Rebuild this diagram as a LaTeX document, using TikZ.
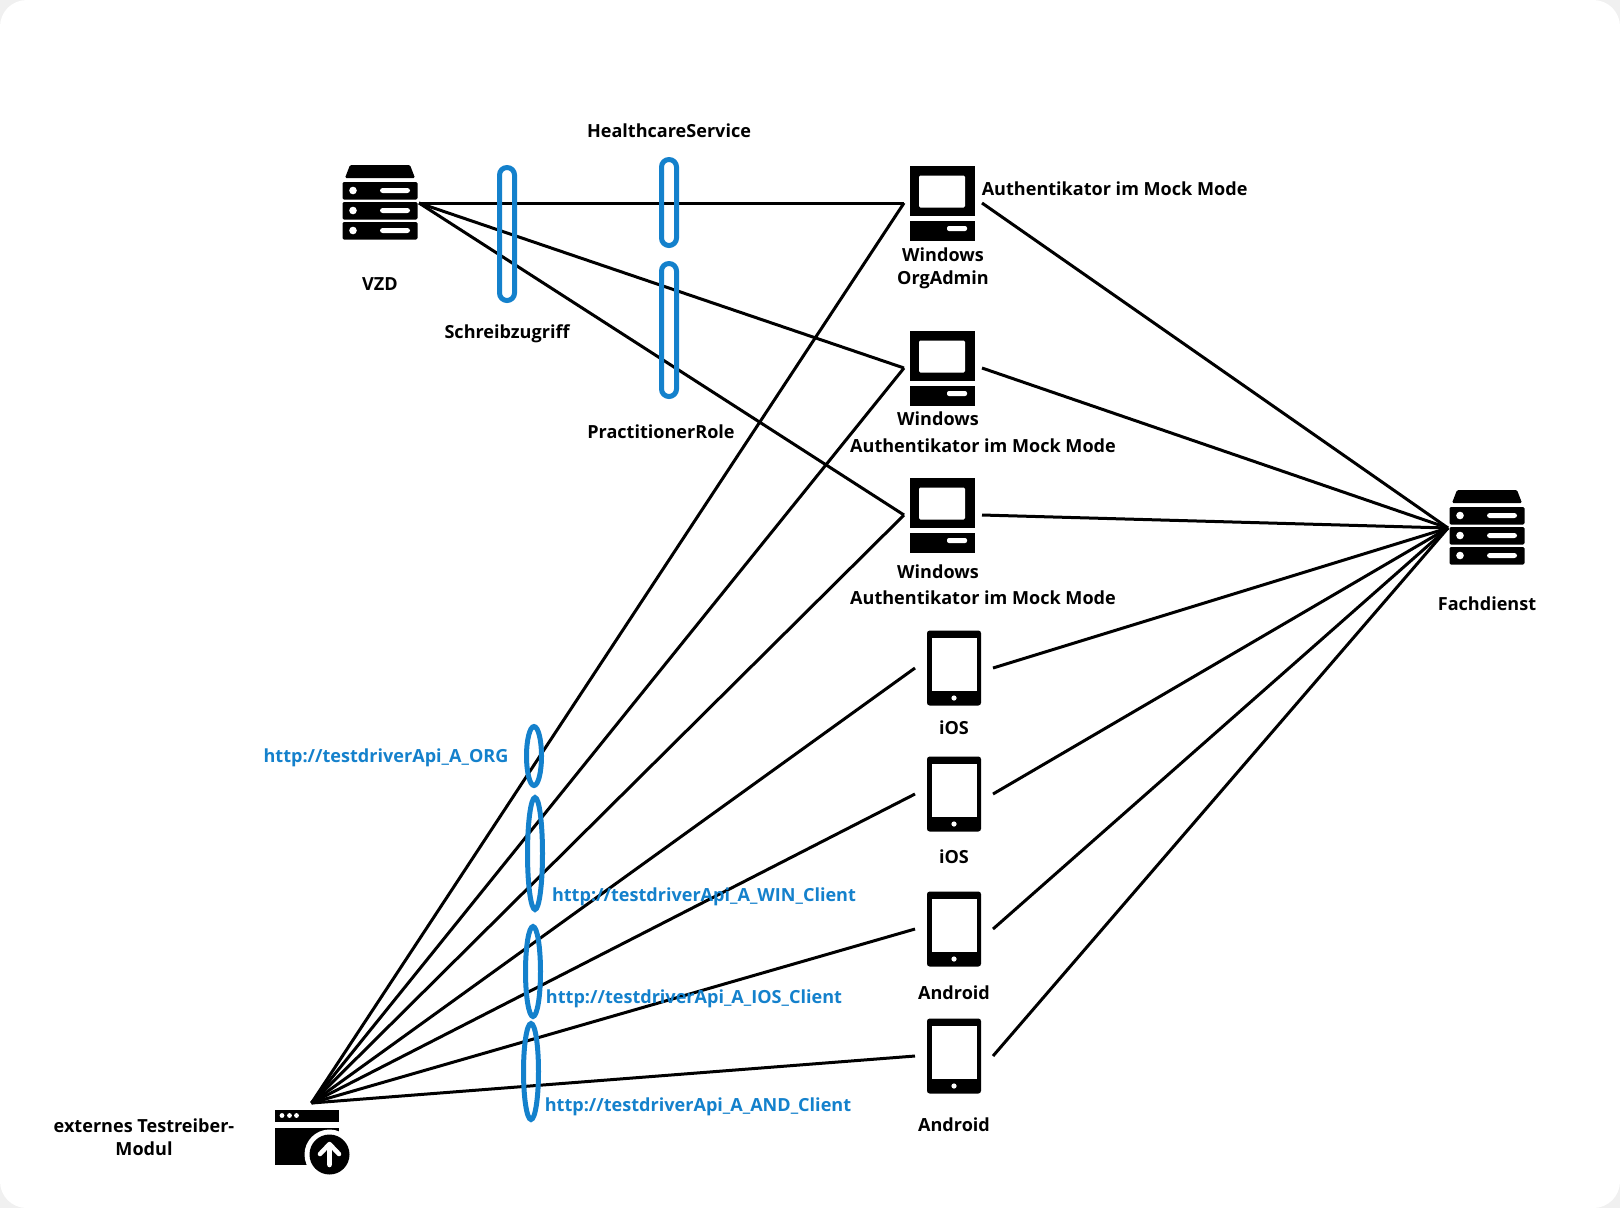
\documentclass[tikz,border=0pt]{standalone}
\usepackage{fontspec}
\setmainfont{Open Sans}
\usetikzlibrary{shapes.geometric}
\definecolor{linkblue}{HTML}{1481CC}
\definecolor{pagegrey}{HTML}{F0F0F0}
\tikzset{
  iconbox/.style={minimum size=58.5pt,inner sep=0pt,outer sep=0pt},
  conn/.style={line width=2.25pt},
  nametext/.style={font=\fontsize{13.55}{17}\selectfont\bfseries,inner sep=0pt,text height=13.5pt,text depth=3pt},
  linktext/.style={nametext,text=linkblue},
  pillring/.style={draw=linkblue,line width=3.75pt,rounded corners=5.6pt,minimum width=11.25pt,inner sep=0pt,outer sep=0pt},
  ovalring/.style={ellipse,draw=linkblue,line width=3.75pt,minimum width=11.25pt,inner sep=0pt,outer sep=0pt},
  servericon/.pic={
    \fill[rounded corners=1pt] (-35,-25) -- (-30,-38) -- (30,-38) -- (35,-25) -- cycle;
    \foreach \row in {-21,-1,19} {
      \fill[rounded corners=1pt] (-37.5,\row) rectangle (37.5,\row+17.5);
      \fill[white] (-27,\row+8.5) circle (3.8);
      \fill[white,rounded corners=2pt] (0,\row+6) rectangle (30,\row+11);
    }
  },
  desktopicon/.pic={
    \fill (-33.5,-37.5) rectangle (31.5,12.5);
    \fill[white,rounded corners=1pt] (-24,-27.5) rectangle (22,4.5);
    \fill (-33.5,17.5) rectangle (31.5,37.5);
    \fill[white,rounded corners=1.5pt] (4,23) rectangle (24,28);
  },
  tableticon/.pic={
    \fill[rounded corners=2pt] (-27,-37.5) rectangle (27,37.5);
    \fill[white] (-22.5,-30) rectangle (22.5,23);
    \fill[white] (0,30) circle (2.6);
  },
  uploadicon/.pic={
    \fill (-37,-32.5) rectangle (27.5,-20.5);
    \foreach \dotx in {-29.5,-22,-15} {
      \fill[white] (\dotx,-26.5) circle (2.4);
    }
    \fill (-37,-14.5) rectangle (27.5,22.5);
    \fill[white] (18,12.5) circle (25);
    \fill (18,12.5) circle (20);
    \draw[white,line width=3.4pt,line cap=round,line join=round] (8.5,12) -- (18,2) -- (27.5,12) (18,2) -- (18,23);
  }
}
\begin{document}
\begin{tikzpicture}[x=0.75pt,y=-0.75pt]
  \useasboundingbox (0,0) rectangle (1620,1208);
  \fill[pagegrey] (0,0) rectangle (1620,1208);
  \fill[white,rounded corners=20pt] (0,0) rectangle (1620,1208);

  \node (vzd) [iconbox] at (380,203) {};
  \node (winorg) [iconbox] at (943,203) {};
  \node (wina) [iconbox] at (943,368) {};
  \node (winb) [iconbox] at (943,515) {};
  \node (iosa) [iconbox] at (954,668) {};
  \node (iosb) [iconbox] at (954,794) {};
  \node (anda) [iconbox] at (954,929) {};
  \node (andb) [iconbox] at (954,1056) {};
  \node (fachdienst) [iconbox] at (1487,528) {};
  \node (testmodul) [iconbox] at (311.5,1142) {};

  \pic at (vzd) {servericon};
  \pic at (fachdienst) {servericon};
  \pic at (winorg) {desktopicon};
  \pic at (wina) {desktopicon};
  \pic at (winb) {desktopicon};
  \pic at (iosa) {tableticon};
  \pic at (iosb) {tableticon};
  \pic at (anda) {tableticon};
  \pic at (andb) {tableticon};
  \pic at (testmodul) {uploadicon};

  \path[conn] (vzd.east) edge (winorg.west)
              (vzd.east) edge (wina.west)
              (vzd.east) edge (winb.west)
              (testmodul.north) edge (winorg.west)
              (testmodul.north) edge (wina.west)
              (testmodul.north) edge (winb.west)
              (testmodul.north) edge (iosa.west)
              (testmodul.north) edge (iosb.west)
              (testmodul.north) edge (anda.west)
              (testmodul.north) edge (andb.west)
              (winorg.east) edge (fachdienst.west)
              (wina.east) edge (fachdienst.west)
              (winb.east) edge (fachdienst.west)
              (iosa.east) edge (fachdienst.west)
              (iosb.east) edge (fachdienst.west)
              (anda.east) edge (fachdienst.west)
              (andb.east) edge (fachdienst.west);

  \node (schreibring) [pillring,minimum height=99.75pt] at (507,234) {};
  \node (healthring) [pillring,minimum height=64.5pt] at (669,202.5) {};
  \node (practring) [pillring,minimum height=99.75pt] at (669,330) {};
  \node (orgring) [ovalring,minimum height=44.25pt] at (534,756) {};
  \node (winring) [ovalring,minimum height=84pt] at (535,853.5) {};
  \node (iosring) [ovalring,minimum height=67.5pt] at (533,971.5) {};
  \node (andring) [ovalring,minimum height=72pt] at (531,1071.5) {};

  \node (vzdlabel) [nametext] at (380,283) {VZD};
  \node (schreiblabel) [nametext] at (507,331.5) {Schreibzugriff};
  \node (healthlabel) [nametext] at (669,130) {HealthcareService};
  \node (practlabel) [nametext] at (661,431) {PractitionerRole};
  \node (mocklabel) [nametext,anchor=west] at (981.5,188) {Authentikator im Mock Mode};
  \node (orglabela) [nametext] at (943,254) {Windows};
  \node (orglabelb) [nametext] at (943,277) {OrgAdmin};
  \node (winalabel) [nametext] at (938,418.5) {Windows};
  \node (winamock) [nametext] at (983,445) {Authentikator im Mock Mode};
  \node (winblabel) [nametext] at (938,571) {Windows};
  \node (winbmock) [nametext] at (983,597) {Authentikator im Mock Mode};
  \node (iosalabel) [nametext] at (954,727) {iOS};
  \node (iosblabel) [nametext] at (954,856.5) {iOS};
  \node (andalabel) [nametext] at (954,992) {Android};
  \node (andblabel) [nametext] at (954,1124) {Android};
  \node (fachlabel) [nametext] at (1487,603) {Fachdienst};
  \node (testlabela) [nametext] at (144,1125) {externes Testreiber-};
  \node (testlabelb) [nametext] at (144,1148) {Modul};

  \node (orglink) [linktext] at (386,755) {http://testdriverApi\_A\_ORG};
  \node (winlink) [linktext] at (704,894.5) {http://testdriverApi\_A\_WIN\_Client};
  \node (ioslink) [linktext] at (694,996) {http://testdriverApi\_A\_IOS\_Client};
  \node (andlink) [linktext] at (698,1104.5) {http://testdriverApi\_A\_AND\_Client};
\end{tikzpicture}
\end{document}
